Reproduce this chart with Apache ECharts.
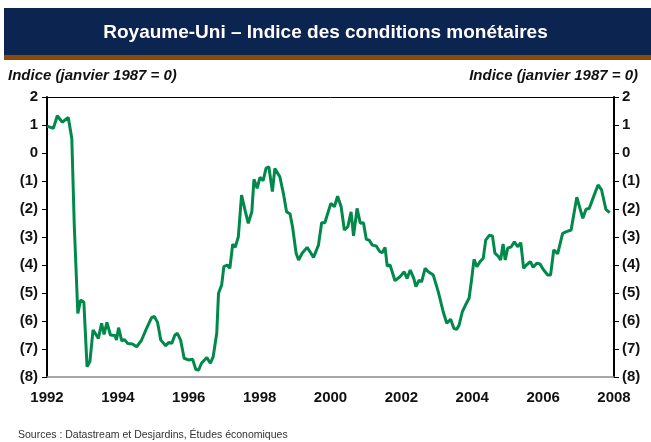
<!DOCTYPE html>
<html>
<head>
<meta charset="utf-8">
<script src="https://cdn.jsdelivr.net/npm/echarts@6/dist/echarts.min.js"></script>
<style>
  html, body { margin: 0; padding: 0; background: #fff; }
  #chart { width: 651px; height: 442px; }
</style>
</head>
<body>
<div id="chart"></div>
<script>
// dates en années décimales, valeurs de l'indice (janvier 1987 = 0)
var dates = [
  1992.00, 1992.18, 1992.29, 1992.43, 1992.60, 1992.70, 1992.77, 1992.87, 1992.95, 1993.04,
  1993.13, 1993.21, 1993.30, 1993.45, 1993.54, 1993.61, 1993.69, 1993.79, 1993.92, 1993.96,
  1994.02, 1994.11, 1994.18, 1994.28, 1994.41, 1994.53, 1994.67, 1994.81, 1994.95, 1995.03,
  1995.12, 1995.21, 1995.35, 1995.44, 1995.52, 1995.61, 1995.68, 1995.77, 1995.87, 1995.99,
  1996.11, 1996.20, 1996.28, 1996.36, 1996.51, 1996.61, 1996.69, 1996.79, 1996.84, 1996.93,
  1996.99, 1997.09, 1997.16, 1997.24, 1997.31, 1997.40, 1997.49, 1997.60, 1997.68, 1997.78,
  1997.84, 1997.93, 1998.01, 1998.10, 1998.18, 1998.26, 1998.36, 1998.43, 1998.57, 1998.67,
  1998.76, 1998.86, 1998.93, 1999.03, 1999.10, 1999.20, 1999.34, 1999.45, 1999.52, 1999.66,
  1999.75, 1999.84, 2000.01, 2000.11, 2000.20, 2000.30, 2000.39, 2000.49, 2000.58, 2000.65,
  2000.75, 2000.84, 2000.93, 2001.01, 2001.09, 2001.18, 2001.29, 2001.39, 2001.46, 2001.54,
  2001.60, 2001.68, 2001.82, 2001.96, 2002.08, 2002.16, 2002.25, 2002.35, 2002.41, 2002.50,
  2002.57, 2002.67, 2002.76, 2002.90, 2003.04, 2003.18, 2003.28, 2003.39, 2003.48, 2003.56,
  2003.63, 2003.72, 2003.81, 2003.91, 2003.98, 2004.05, 2004.13, 2004.22, 2004.31, 2004.38,
  2004.48, 2004.57, 2004.64, 2004.73, 2004.80, 2004.87, 2004.93, 2005.00, 2005.10, 2005.19,
  2005.28, 2005.37, 2005.45, 2005.53, 2005.64, 2005.72, 2005.82, 2005.91, 2006.00, 2006.13,
  2006.21, 2006.30, 2006.41, 2006.55, 2006.66, 2006.79, 2006.95, 2007.12, 2007.21, 2007.30,
  2007.43, 2007.55, 2007.65, 2007.77, 2007.88
];
var values = [
  0.96, 0.88, 1.33, 1.10, 1.27, 0.52, -2.60, -5.73, -5.25, -5.33,
  -7.63, -7.45, -6.32, -6.62, -6.08, -6.48, -6.05, -6.50, -6.52, -6.68,
  -6.24, -6.71, -6.66, -6.80, -6.82, -6.92, -6.68, -6.26, -5.88, -5.84,
  -6.05, -6.68, -6.88, -6.76, -6.80, -6.50, -6.44, -6.68, -7.33, -7.39,
  -7.37, -7.73, -7.75, -7.51, -7.30, -7.51, -7.27, -6.44, -5.01, -4.71,
  -4.06, -4.00, -4.12, -3.26, -3.37, -2.99, -1.50, -2.10, -2.51, -2.10,
  -0.94, -1.26, -0.87, -0.99, -0.55, -0.49, -1.38, -0.55, -0.85, -1.44,
  -2.10, -2.18, -2.65, -3.58, -3.82, -3.58, -3.37, -3.58, -3.73, -3.29,
  -2.49, -2.49, -1.80, -1.92, -1.54, -1.92, -2.75, -2.63, -2.10, -2.96,
  -1.98, -2.51, -2.49, -3.08, -3.11, -3.29, -3.32, -3.52, -3.56, -3.37,
  -4.04, -4.00, -4.56, -4.42, -4.24, -4.48, -4.18, -4.48, -4.77, -4.54,
  -4.60, -4.12, -4.24, -4.36, -4.95, -5.67, -6.08, -5.94, -6.26, -6.30,
  -6.14, -5.67, -5.43, -5.19, -4.54, -3.80, -4.06, -3.88, -3.76, -3.11,
  -2.94, -2.96, -3.58, -3.68, -3.82, -3.25, -3.82, -3.40, -3.35, -3.17,
  -3.35, -3.20, -4.12, -4.00, -3.88, -4.08, -3.94, -3.96, -4.15, -4.36,
  -4.36, -3.46, -3.60, -2.87, -2.81, -2.75, -1.58, -2.33, -2.01, -1.98,
  -1.54, -1.14, -1.32, -2.01, -2.13
];

var titleText = 'Royaume-Uni – Indice des conditions monétaires';
var axisTitle = 'Indice (janvier 1987 = 0)';
var sourceText = 'Sources : Datastream et Desjardins, Études économiques';

var myChart = echarts.init(document.getElementById('chart'));

function fmtNeg(v) {
  return v < 0 ? '(' + (-v) + ')' : String(v);
}

var labelStyle = {
  color: '#111',
  fontFamily: 'Liberation Sans, Arial, sans-serif',
  fontWeight: 'bold',
  fontSize: 15
};

var option = {
  animation: false,
  backgroundColor: '#fff',
  grid: { left: 47, right: 37, top: 97, bottom: 65 },
  graphic: [
    { type: 'rect', shape: { x: 4, y: 8, width: 647, height: 47 }, style: { fill: '#0c2450' }, z: 0 },
    { type: 'rect', shape: { x: 4, y: 55, width: 647, height: 5 }, style: { fill: '#8a4a0c' }, z: 0 },
    {
      type: 'text', left: 'center', top: 23, z: 10,
      style: { text: titleText, fill: '#fff', font: 'bold 19px "Liberation Sans", Arial, sans-serif' }
    },
    {
      type: 'text', left: 8, top: 68,
      style: { text: axisTitle, fill: '#111', font: 'italic bold 15px "Liberation Sans", Arial, sans-serif' }
    },
    {
      type: 'text', right: 13, top: 68,
      style: { text: axisTitle, fill: '#111', font: 'italic bold 15px "Liberation Sans", Arial, sans-serif' }
    },
    {
      type: 'text', left: 18, top: 430,
      style: { text: sourceText, fill: '#333', font: '10.5px "Liberation Sans", Arial, sans-serif' }
    }
  ],
  xAxis: [{
    type: 'value',
    min: 1992,
    max: 2008,
    interval: 2,
    position: 'bottom',
    axisLine: { show: true, onZero: false, lineStyle: { color: '#8c8c8c', width: 1.5 } },
    axisTick: { show: false },
    splitLine: { show: false },
    axisLabel: Object.assign({ margin: 13, formatter: function (v) { return String(v); } }, labelStyle)
  }, {
    type: 'value',
    min: 1992,
    max: 2008,
    position: 'top',
    axisLine: { show: true, onZero: false, lineStyle: { color: '#000', width: 1 } },
    axisTick: { show: false },
    axisLabel: { show: false },
    splitLine: { show: false }
  }],
  yAxis: [{
    type: 'value',
    min: -8,
    max: 2,
    interval: 1,
    position: 'left',
    axisLine: { show: true, onZero: false, lineStyle: { color: '#000', width: 2 } },
    axisTick: { show: true, length: 5, lineStyle: { color: '#000', width: 1 } },
    splitLine: { show: false },
    axisLabel: Object.assign({ margin: 9, formatter: fmtNeg }, labelStyle)
  }, {
    type: 'value',
    min: -8,
    max: 2,
    interval: 1,
    position: 'right',
    axisLine: { show: true, onZero: false, lineStyle: { color: '#000', width: 2 } },
    axisTick: { show: true, length: 5, lineStyle: { color: '#000', width: 1 } },
    splitLine: { show: false },
    axisLabel: Object.assign({ margin: 8, formatter: fmtNeg }, labelStyle)
  }],
  series: [{
    name: 'Indice',
    type: 'line',
    xAxisIndex: 0,
    yAxisIndex: 0,
    symbol: 'none',
    lineStyle: { color: '#00894b', width: 3 },
    data: dates.map(function (d, i) { return [d, values[i]]; })
  }]
};
myChart.setOption(option);
</script>
</body>
</html>
